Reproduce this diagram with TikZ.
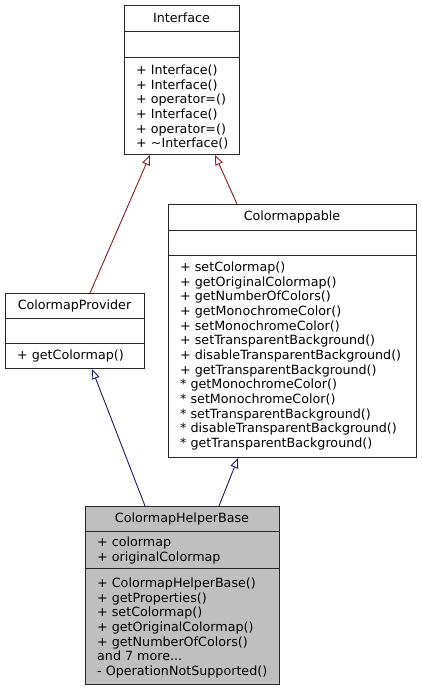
\documentclass[tikz,border=0pt]{standalone}
\usepackage{fontspec}
\setmainfont{DejaVu Sans}
\usetikzlibrary{arrows.meta}
\definecolor{redl}{HTML}{8B1A1A}
\definecolor{bluel}{HTML}{191970}
\definecolor{helpfill}{HTML}{BFBFBF}
\begin{document}
\begin{tikzpicture}[x=1pt,y=-1pt,
  cls/.style={draw=black!85, line width=1pt, inner sep=0pt, anchor=north west},
  divider/.style={draw=black!85, line width=1pt},
  ttl/.style={font=\fontsize{12.7}{14.67}\selectfont, inner sep=0pt, anchor=center},
  mtext/.style={font=\fontsize{12.7}{14.67}\selectfont, inner sep=0pt, anchor=base west},
  inhred/.style={draw=redl, line width=0.9pt, -{Triangle[open,length=10pt,width=8pt]}},
  inhblue/.style={draw=bluel, line width=0.9pt, -{Triangle[open,length=10pt,width=8pt]}}]
\useasboundingbox[fill=white] (0,0) rectangle (421,691);

% Interface
\node[cls, minimum width=115pt, minimum height=149pt] (iface) at (124,5) {};
\draw[divider] (124,31) -- (239,31);
\draw[divider] (124,57) -- (239,57);
\node[ttl] (ifacet) at (181.5,18) {Interface};
\foreach \t [count=\i] in {+ Interface(), + Interface(), + operator=(), + Interface(), + operator=(), + \textasciitilde Interface()}
  \node[mtext] (ifm\i) at (136, {74.5+14.67*(\i-1)}) {\t};

% Colormappable
\node[cls, minimum width=248pt, minimum height=253pt] (cmap) at (168,204) {};
\draw[divider] (168,230) -- (416,230);
\draw[divider] (168,255) -- (416,255);
\node[ttl] (cmapt) at (292,217) {Colormappable};
\foreach \t [count=\i] in {+ setColormap(), + getOriginalColormap(), + getNumberOfColors(), + getMonochromeColor(), + setMonochromeColor(), + setTransparentBackground(), + disableTransparentBackground(), + getTransparentBackground(), * getMonochromeColor(), * setMonochromeColor(), * setTransparentBackground(), * disableTransparentBackground(), * getTransparentBackground()}
  \node[mtext] (cmm\i) at (180, {271.5+14.67*(\i-1)}) {\t};

% ColormapProvider
\node[cls, minimum width=139pt, minimum height=75pt] (prov) at (5,293) {};
\draw[divider] (5,318) -- (144,318);
\draw[divider] (5,343) -- (144,343);
\node[ttl] (provt) at (74.5,305.5) {ColormapProvider};
\node[mtext] (provm1) at (17,359.5) {+ getColormap()};

% ColormapHelperBase
\node[cls, fill=helpfill, minimum width=194pt, minimum height=178pt] (help) at (85,506) {};
\draw[divider] (85,531) -- (279,531);
\draw[divider] (85,568) -- (279,568);
\node[ttl] (helpt) at (182,518.5) {ColormapHelperBase};
\node[mtext] (hela1) at (97,546.5) {+ colormap};
\node[mtext] (hela2) at (97,561.2) {+ originalColormap};
\node[mtext] (helm1) at (97,587.5) {+ ColormapHelperBase()};
\node[mtext] (helm2) at (97,602.17) {+ getProperties()};
\node[mtext] (helm3) at (97,616.84) {+ setColormap()};
\node[mtext] (helm4) at (97,631.51) {+ getOriginalColormap()};
\node[mtext] (helm5) at (97,646.18) {+ getNumberOfColors()};
\node[mtext] (helm6) at (97,660.85) {and 7 more...};
\node[mtext] (helm7) at (97,675.52) {- OperationNotSupported()};

% Inheritance connectors
\draw[inhred] ([xshift=85pt]prov.north west) -- ([xshift=26pt]iface.south west);
\draw[inhred] ([xshift=69pt]cmap.north west) -- ([xshift=91pt]iface.south west);
\draw[inhblue] ([xshift=60pt]help.north west) -- ([xshift=87pt]prov.south west);
\draw[inhblue] ([xshift=134pt]help.north west) -- ([xshift=70pt]cmap.south west);
\end{tikzpicture}
\end{document}
